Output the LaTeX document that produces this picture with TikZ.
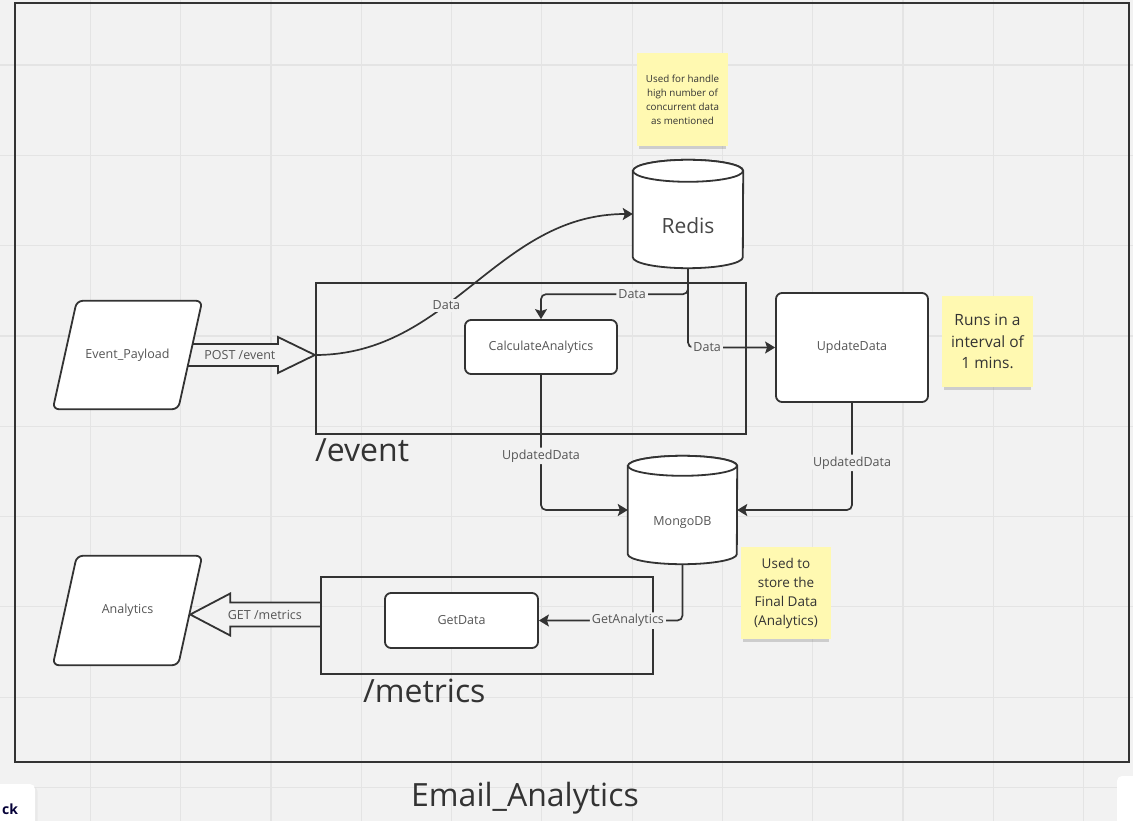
\documentclass[tikz,border=0pt]{standalone}
\usepackage{fontspec}
\setmainfont{Open Sans}
\usetikzlibrary{positioning,arrows.meta,shadows,calc}

\definecolor{canvas}{HTML}{F2F2F2}
\definecolor{gridline}{HTML}{E4E4E4}
\definecolor{ink}{HTML}{333333}
\definecolor{labelgray}{HTML}{555555}
\definecolor{sticky}{HTML}{FFF9B1}
\definecolor{navy}{HTML}{050038}

\pgfdeclarelayer{gridlayer}
\pgfdeclarelayer{behind}
\pgfsetlayers{gridlayer,behind,main}

\tikzset{
    small/.style={font=\fontsize{12.5}{15}\selectfont},
    box/.style={small, draw=ink, line width=1.8pt, fill=white, rounded corners=6pt, text=labelgray, inner sep=0pt},
    group/.style={draw=ink, line width=2.2pt, inner sep=0pt},
    io/.style={small, minimum width=125pt, minimum height=108pt, inner sep=0pt, text=labelgray},
    ioline/.style={draw=ink, line width=1.8pt, fill=white, rounded corners=6pt},
    dbtext/.style={minimum width=110pt, minimum height=108pt, inner sep=0pt, text depth=0pt},
    dbline/.style={draw=ink, line width=1.8pt, fill=white},
    conn/.style={draw=ink, line width=1.7pt, rounded corners=5pt, -{Stealth[length=10pt,width=12pt,inset=2pt]}},
    lbl/.style={small, fill=canvas, inner sep=2pt, text=labelgray},
    fatarrow/.style={draw=ink, line width=1.8pt, fill=canvas, line join=miter},
    note/.style={fill=sticky, align=center, inner sep=0pt, text=ink,
        drop shadow={shadow xshift=0pt, shadow yshift=-5pt, shadow scale=0.96, opacity=0.15, fill=black}},
    bigtext/.style={font=\fontsize{32}{38}\selectfont, text=ink, inner sep=0pt},
}

% cylinder outline round a node: node, x radius, y radius
\newcommand{\cylbody}[3]{%
    \filldraw[dbline] ([yshift=-#3pt]#1.north west) -- ([yshift=#3pt]#1.south west)
        arc[start angle=180, end angle=0, x radius=#2, y radius=#3]
        -- ([yshift=-#3pt]#1.north east)
        arc[start angle=0, end angle=-180, x radius=#2, y radius=#3] -- cycle;
    \draw[dbline] ([yshift=-#3pt]#1.north) ellipse[x radius=#2, y radius=#3];}

% slanted outline round a node: node, half slant
\newcommand{\slantbody}[2]{%
    \filldraw[ioline] ([xshift=-#2pt]#1.south west) -- ([xshift=#2pt]#1.north west)
        -- ([xshift=#2pt]#1.north east) -- ([xshift=-#2pt]#1.south east) -- cycle;}

\begin{document}
\begin{tikzpicture}[x=1pt,y=-1pt]
    \clip (0,0) rectangle (1133,821);

    % board and grid
    \begin{pgfonlayer}{gridlayer}
        \fill[canvas] (0,0) rectangle (1133,821);
        \foreach \k in {1,...,12}
            \draw[gridline, line width=1.2pt] (\k*90.3,0) -- (\k*90.3,821);
        \foreach \k in {0,...,8}
            \draw[gridline, line width=1.2pt] (0,65+\k*90.3) -- (1133,65+\k*90.3);
    \end{pgfonlayer}

    \node[group, minimum width=1114pt, minimum height=759pt] (board) at (572,382.5) {};

    % groups
    \node[group, minimum width=430pt, minimum height=151pt] (eventbox) at (531,358.5) {};
    \node[bigtext, anchor=north west] (eventlbl) at ([yshift=-3pt]eventbox.south west) {/event};
    \node[group, minimum width=332pt, minimum height=97pt] (metricsbox) at (487,625.5) {};
    \node[bigtext, anchor=north west] (metricslbl) at ([xshift=43pt,yshift=-4pt]metricsbox.south west) {/metrics};

    % inputs and outputs
    \node[io] (payload) at (127.5,355) {Event\_Payload};
    \node[io, minimum height=109pt] (analytics) at (127.5,610.5) {Analytics};

    % services
    \node[box, minimum width=152pt, minimum height=54pt] (calc) at (541,347) {CalculateAnalytics};
    \node[box, minimum width=152pt, minimum height=109pt] (update) at (852,347.5) {UpdateData};
    \node[box, minimum width=153pt, minimum height=55pt] (getdata) at (461.5,620.5) {GetData};

    % stores
    \node[dbtext, text height=40pt, font=\fontsize{21}{25}\selectfont, text=ink!90] (redis) at (688,214) {Redis};
    \node[dbtext, text height=31pt, minimum width=109pt, small, text=labelgray] (mongo) at (682.5,510) {MongoDB};

    % notes
    \node[note, minimum width=91pt, minimum height=93pt, font=\fontsize{9.8}{14}\selectfont] (redisnote) at (682.5,99.5)
        {Used for handle\\high number of\\concurrent data\\as mentioned};
    \node[note, minimum width=91pt, minimum height=91pt, font=\fontsize{15.5}{21.5}\selectfont] (runsnote) at (987.5,341.5)
        {Runs in a\\interval of\\1 mins.};
    \node[note, minimum width=90pt, minimum height=92pt, font=\fontsize{13.5}{19}\selectfont] (storenote) at (786,593)
        {Used to\\store the\\Final Data\\(Analytics)};

    % fat arrows, then the outlines that sit on them
    \coordinate (posttip) at (eventbox.west |- payload.center);
    \coordinate (gettip) at ([yshift=-4pt]analytics.east);
    \coordinate (getstart) at (metricsbox.west |- gettip);
    \begin{pgfonlayer}{behind}
        \draw[fatarrow] ($(payload.center)+(0,-11)$) -- ($(posttip)+(-37,-11)$) -- ($(posttip)+(-37,-18)$)
            -- (posttip) -- ($(posttip)+(-37,18)$) -- ($(posttip)+(-37,11)$) -- ($(payload.center)+(0,11)$);
        \draw[fatarrow] (getstart) ++(0,-12) -- ($(gettip)+(40,-12)$) -- ($(gettip)+(40,-21)$)
            -- (gettip) -- ($(gettip)+(40,21)$) -- ($(gettip)+(40,12)$) -- ($(getstart)+(0,12)$);
        \slantbody{payload}{12}
        \slantbody{analytics}{12}
        \cylbody{redis}{55}{11}
        \cylbody{mongo}{54.5}{10}
    \end{pgfonlayer}
    \node[lbl, fill=none] (postlbl) at ($(posttip)+(-75,0)$) {POST /event};
    \node[lbl, fill=none] (getlbl) at ($(getstart)+(-55,0)$) {GET /metrics};

    % connectors
    \draw[conn, rounded corners=0pt] (posttip) to[out=0,in=180] node[lbl, pos=0.4] {Data} (redis.west);
    \draw[conn] (redis.south) -- ++(0,26) -| node[lbl, pos=0.19] {Data} (calc.north);
    \draw[conn] (redis.south) |- node[lbl, pos=0.61] {Data} (update.west);
    \draw[conn] (calc.south) |- node[lbl, pos=0.3] {UpdatedData} (mongo.west);
    \draw[conn] (update.south) |- node[lbl, pos=0.28] {UpdatedData} (mongo.east);
    \draw[conn] (mongo.south) |- node[lbl, pos=0.69] {GetAnalytics} (getdata.east);

    % title and screen bits
    \node[bigtext] (title) at (525,798) {Email\_Analytics};
    \fill[white, rounded corners=5pt, drop shadow={opacity=0.08}] (-10,784) rectangle (35,830);
    \node[font=\fontsize{14}{16}\selectfont\bfseries, text=navy] (backbtn) at (10,809) {ck};
    \fill[white, rounded corners=5pt, drop shadow={opacity=0.1}] (1117,776) rectangle (1145,830);
\end{tikzpicture}
\end{document}
